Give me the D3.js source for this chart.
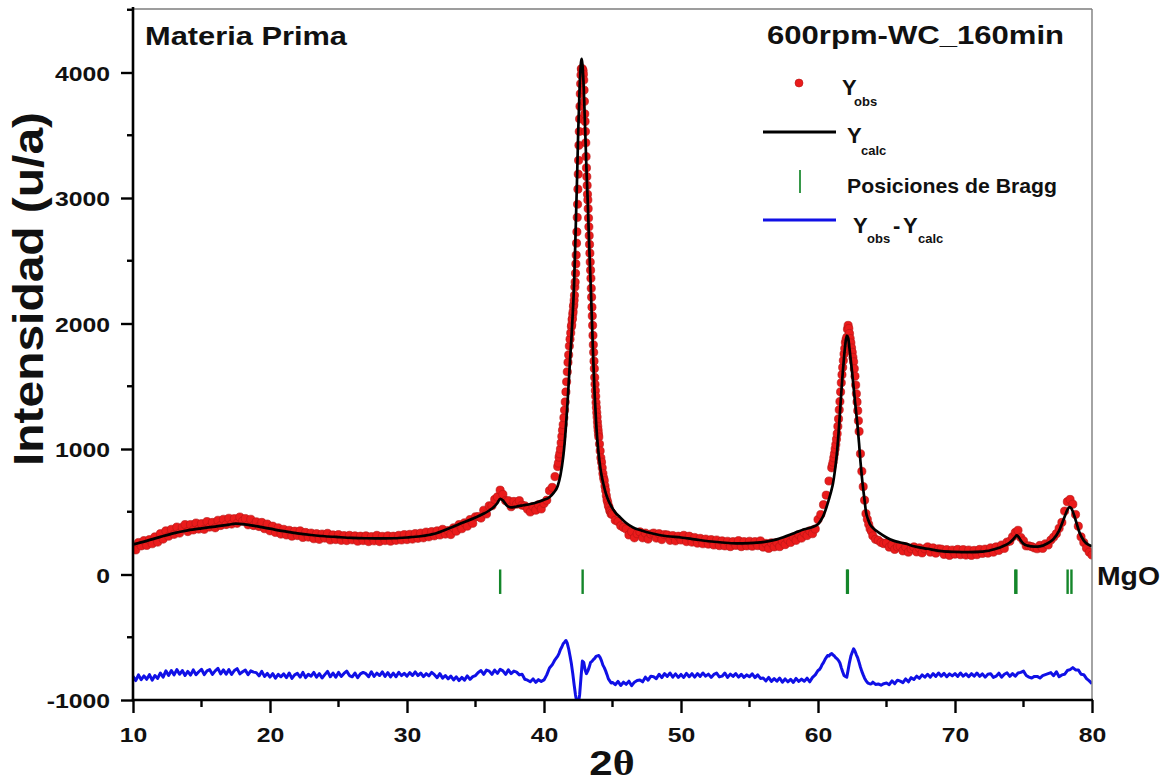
<!DOCTYPE html>
<html>
<head>
<meta charset="utf-8">
<script src="https://cdn.jsdelivr.net/npm/d3@7"></script>
<style>
  body { margin: 0; background: #fff; }
  svg { display: block; }
</style>
</head>
<body>
<svg id="chart" width="1166" height="784"></svg>
<script>
// Rietveld refinement of the milled MgO powder (600 rpm, WC media, 160 min).

// Observed intensity. Each row starts at a whole 2θ degree; the values that follow
// are evenly spaced across that degree (5 values = 0.2° steps, 10 = 0.1°, 20 = 0.05°, 40 = 0.025°).
const obsRows = [
  [10, 222, 196, 255, 228, 270],
  [11, 232, 278, 245, 300, 258],
  [12, 325, 282, 348, 305, 360],
  [13, 320, 378, 330, 376, 398],
  [14, 342, 398, 355, 410, 362],
  [15, 405, 360, 422, 378, 415],
  [16, 372, 432, 390, 440, 398],
  [17, 448, 402, 445, 408, 458],
  [18, 425, 446, 396, 440, 390],
  [19, 420, 382, 415, 365, 402],
  [20, 348, 385, 335, 372, 322],
  [21, 360, 315, 352, 305, 345],
  [22, 310, 348, 295, 335, 298],
  [23, 330, 285, 325, 280, 322],
  [24, 290, 328, 275, 315, 278],
  [25, 318, 272, 310, 270, 312],
  [26, 276, 308, 265, 305, 270],
  [27, 308, 262, 302, 268, 312],
  [28, 262, 304, 270, 308, 265],
  [29, 305, 272, 312, 275, 318],
  [30, 278, 320, 282, 326, 288],
  [31, 330, 292, 338, 300, 342],
  [32, 308, 348, 315, 360, 322],
  [33, 350, 318, 372, 345, 398],
  [34, 365, 412, 385, 438, 408],
  [35, 460, 462, 450, 512, 482],
  [36, 548, 548, 598, 618, 672],
  [37, 638, 588, 588, 540, 582],
  [38, 560, 588, 552, 548, 520],
  [39, 498, 542, 512, 556, 522],
  [40, 566, 592, 668, 694, 780],
  [41, 860, 888, 935, 962, 1000, 1050, 1100, 1150, 1195, 1250,
      1310, 1375, 1455, 1535, 1615, 1690, 1750, 1820, 1875, 1925],
  [42, 1975, 1990, 2030, 2040, 2075, 2095, 2135, 2150, 2185, 2225,
      2290, 2330, 2400, 2475, 2545, 2640, 2730, 2845, 2950, 3070,
      3190, 3300, 3420, 3530, 3630, 3730, 3830, 3910, 3980, 4030,
      4025, 4020, 4030, 4010, 4015, 3985, 3940, 3860, 3770, 3670],
  [43, 3610, 3530, 3440, 3330, 3240, 3170, 3100, 3030, 2985, 2915,
      2840, 2770, 2700, 2630, 2560, 2490, 2425, 2360, 2280, 2210,
      2130, 2060, 1985, 1905, 1830, 1770, 1700, 1640, 1570, 1515,
      1465, 1420, 1370, 1330, 1290, 1255, 1215, 1180, 1150, 1120],
  [44, 1095, 1040, 985, 930, 895, 850, 805, 770, 748, 705,
      670, 628, 595, 575, 548, 535, 510, 502, 482, 490],
  [45, 478, 432, 422, 388, 375],
  [46, 362, 315, 342, 292, 325],
  [47, 340, 292, 330, 282, 322],
  [48, 330, 290, 325, 278, 318],
  [49, 315, 272, 310, 268, 305],
  [50, 275, 312, 262, 305, 258],
  [51, 295, 250, 288, 245, 282],
  [52, 242, 278, 235, 275, 230],
  [53, 268, 228, 265, 222, 262],
  [54, 232, 270, 222, 262, 228],
  [55, 265, 225, 262, 230, 268],
  [56, 218, 248, 208, 252, 220],
  [57, 255, 222, 265, 238, 278],
  [58, 255, 298, 272, 318, 290],
  [59, 332, 310, 348, 325, 362],
  [60, 438, 478, 556, 632, 745],
  [61, 850, 872, 895, 930, 962, 1000, 1035, 1078, 1122, 1180,
      1240, 1312, 1378, 1455, 1528, 1592, 1650, 1705, 1757, 1800],
  [62, 1848, 1872, 1890, 1955, 1985, 1960, 1920, 1880, 1845, 1805,
      1770, 1730, 1695, 1640, 1580, 1510, 1440, 1375, 1305, 1225],
  [63, 1140, 962, 822, 700, 592, 485, 440, 400, 365, 345],
  [64, 308, 280, 272, 255, 246],
  [65, 252, 218, 235, 200, 220],
  [66, 225, 188, 220, 178, 205],
  [67, 220, 180, 212, 172, 205],
  [68, 220, 178, 212, 170, 205],
  [69, 202, 160, 198, 152, 195],
  [70, 162, 200, 158, 198, 155],
  [71, 195, 152, 192, 158, 200],
  [72, 168, 202, 170, 212, 178],
  [73, 220, 192, 235, 208, 258],
  [74, 265, 300, 335, 352, 295],
  [75, 268, 228, 228, 222, 212],
  [76, 205, 232, 208, 245, 235],
  [77, 275, 298, 325, 368, 415],
  [78, 505, 580, 598, 560, 478],
  [79, 385, 300, 255, 210, 178],
  [80, 155]
];

// Calculated profile, [2θ, intensity].
const calcPoints = [
  [10, 240], [11, 268], [12, 300], [13, 330], [14, 352], [15, 368], [16, 382],
  [17, 398], [17.5, 405], [18, 402], [19, 385], [20, 365], [21, 345], [22, 328],
  [23, 315], [24, 305], [25, 298], [26, 292], [27, 289], [28, 288], [29, 289],
  [30, 295], [31, 305], [32, 325], [33, 365], [34, 410], [35, 455], [35.5, 480],
  [36, 510], [36.4, 545], [36.6, 570], [36.8, 603], [37.0, 590], [37.3, 548],
  [37.6, 535], [38, 542], [38.5, 552], [39, 562], [39.5, 576], [40, 595],
  [40.4, 616], [40.7, 650], [41.0, 705], [41.2, 790], [41.4, 935], [41.5, 1040],
  [41.6, 1180], [41.7, 1340], [41.8, 1520], [41.9, 1706], [42.0, 1880],
  [42.1, 2080], [42.2, 2330], [42.3, 2700], [42.4, 3100], [42.5, 3540],
  [42.6, 3880], [42.7, 4080], [42.75, 4109], [42.8, 4070], [42.9, 3880],
  [43.0, 3560], [43.1, 3230], [43.2, 2950], [43.3, 2620], [43.4, 2330],
  [43.5, 2020], [43.6, 1700], [43.7, 1430], [43.8, 1220], [43.9, 1060],
  [44.0, 950], [44.1, 860], [44.2, 790], [44.35, 715], [44.5, 650], [44.7, 590],
  [44.95, 537], [45.2, 495], [45.55, 457], [46, 410], [46.5, 375], [47, 355],
  [48, 325], [49, 305], [50, 295], [51, 280], [52, 265], [53, 255], [54, 248],
  [55, 250], [56, 258], [57, 280], [58, 318], [58.5, 340], [59, 360],
  [59.5, 375], [60, 400], [60.2, 430], [60.4, 470], [60.6, 530], [60.8, 600],
  [61.0, 680], [61.1, 730], [61.2, 800], [61.3, 885], [61.4, 990], [61.5, 1125],
  [61.6, 1285], [61.7, 1450], [61.8, 1600], [61.9, 1730], [62.0, 1840],
  [62.1, 1904], [62.2, 1885], [62.3, 1800], [62.4, 1700], [62.5, 1600],
  [62.6, 1490], [62.7, 1380], [62.8, 1275], [62.9, 1170], [63.0, 1040],
  [63.1, 900], [63.2, 780], [63.3, 680], [63.4, 590], [63.5, 500], [63.65, 440],
  [63.8, 400], [64.0, 372], [64.5, 330], [65, 295], [65.5, 270], [66, 255],
  [66.5, 243], [67, 225], [68, 205], [69, 186], [70, 180], [71, 178], [72, 182],
  [73, 205], [73.5, 225], [74, 255], [74.2, 275], [74.4, 300], [74.5, 311],
  [74.6, 305], [74.8, 272], [75, 245], [75.3, 230], [75.8, 222], [76.2, 224],
  [76.7, 245], [77.2, 284], [77.6, 350], [78.0, 460], [78.2, 515], [78.35, 537],
  [78.5, 525], [78.7, 470], [78.9, 400], [79.1, 330], [79.4, 270], [79.7, 240],
  [80, 225]
];

// Difference curve Yobs - Ycalc, shifted down by 800 counts; same row layout as obsRows.
const diffRows = [
  [10, -812, -845, -800, -838, -808],
  [11, -835, -798, -842, -805, -828],
  [12, -785, -818, -768, -805, -765],
  [13, -800, -758, -795, -765, -805],
  [14, -772, -802, -760, -798, -775],
  [15, -755, -798, -768, -758, -796],
  [16, -768, -748, -792, -760, -795],
  [17, -758, -796, -765, -750, -792],
  [18, -775, -762, -798, -768, -778],
  [19, -782, -808, -772, -812, -788],
  [20, -818, -790, -826, -795, -815],
  [21, -792, -822, -785, -828, -800],
  [22, -788, -818, -780, -822, -795],
  [23, -810, -780, -818, -790, -825],
  [24, -798, -772, -815, -785, -818],
  [25, -780, -812, -788, -770, -805],
  [26, -815, -785, -822, -792, -780],
  [27, -790, -815, -775, -812, -786],
  [28, -805, -776, -812, -782, -816],
  [29, -786, -815, -780, -806, -788],
  [30, -810, -782, -805, -776, -806],
  [31, -785, -814, -790, -808, -780],
  [32, -798, -822, -790, -826, -805],
  [33, -832, -810, -840, -815, -845],
  [34, -820, -842, -808, -836, -814],
  [35, -805, -780, -765, -796, -762],
  [36, -770, -796, -762, -788, -755],
  [37, -768, -796, -760, -790, -770],
  [38, -778, -800, -795, -835, -842],
  [39, -855, -832, -860, -838, -852],
  [40, -840, -800, -745, -720, -680],
  [41, -650, -628, -598, -578, -552, -540, -526, -548, -592, -650],
  [42, -712, -790, -880, -960, -1020, -1030, -960, -820, -690, -700],
  [43, -760, -790, -768, -738, -700, -692, -678, -668, -652, -648],
  [44, -645, -662, -688, -722, -742, -768, -798, -832, -848, -865],
  [45, -860, -878, -852, -884, -858],
  [46, -875, -850, -886, -858, -845],
  [47, -840, -855, -818, -842, -810],
  [48, -815, -830, -795, -822, -790],
  [49, -812, -785, -818, -792, -820],
  [50, -796, -820, -788, -815, -790],
  [51, -818, -790, -812, -785, -810],
  [52, -794, -820, -796, -786, -816],
  [53, -810, -785, -820, -794, -812],
  [54, -790, -818, -795, -820, -800],
  [55, -815, -792, -822, -800, -828],
  [56, -825, -848, -820, -852, -830],
  [57, -850, -825, -858, -832, -855],
  [58, -835, -860, -828, -852, -834],
  [59, -850, -826, -855, -820, -800],
  [60, -765, -758, -742, -718, -702, -680, -662, -645, -650, -636],
  [61, -630, -642, -650, -664, -672, -686, -705, -742, -775, -805],
  [62, -812, -818, -760, -700, -650, -620, -592, -612, -640, -665],
  [63, -700, -739, -772, -800, -826, -845, -860, -868, -872, -870],
  [64, -858, -876, -872, -882, -870],
  [65, -865, -878, -848, -870, -842],
  [66, -850, -862, -832, -855, -822],
  [67, -836, -810, -828, -800, -818],
  [68, -795, -818, -790, -812, -785],
  [69, -810, -788, -815, -792, -808],
  [70, -790, -812, -785, -810, -792],
  [71, -815, -790, -810, -785, -812],
  [72, -792, -818, -795, -790, -820],
  [73, -810, -786, -818, -795, -784],
  [74, -812, -790, -810, -785, -780],
  [75, -770, -805, -818, -825, -812],
  [76, -812, -825, -806, -798, -790],
  [77, -782, -806, -775, -815, -800],
  [78, -795, -765, -758, -742, -760],
  [79, -760, -795, -798, -830, -848],
  [80, -870]
];

// MgO reflection positions (Kα1 / Kα2 pairs where they separate).
const braggPos = [36.8, 42.82, 62.12, 62.18, 74.4, 74.48, 78.22, 78.5];
const braggSpan = [40, -155];

const xMajorTicks = [10, 20, 30, 40, 50, 60, 70, 80];
const xMinorTicks = [15, 25, 35, 45, 55, 65, 75];
const yMajorTicks = [-1000, 0, 1000, 2000, 3000, 4000];
const yMinorTicks = [-500, 500, 1500, 2500, 3500, 4500];

function expandRows(rows) {
  const out = [];
  rows.forEach(row => {
    const start = row[0];
    const vals = row.slice(1);
    const step = 1 / vals.length;
    vals.forEach((v, i) => out.push([start + i * step, v]));
  });
  return out;
}

const obs = expandRows(obsRows);
const diff = expandRows(diffRows);

const svg = d3.select("#chart");
const pLeft = 133, pRight = 1092, pTop = 9, pBottom = 700;
const SANS = "'Liberation Sans', Arial, Helvetica, sans-serif";

const x = d3.scaleLinear().domain([10, 80]).range([pLeft, pRight]);
const y = d3.scaleLinear().domain([-1000, 4500]).range([pBottom, pTop + 0.75]);

svg.append("defs").append("clipPath").attr("id", "plotClip")
  .append("rect").attr("x", pLeft).attr("y", pTop)
  .attr("width", pRight - pLeft).attr("height", pBottom - pTop);

// Horizontal stretch for Origin-style wide bold lettering
function stretch(sel, k) {
  sel.each(function () {
    const t = d3.select(this);
    const tx = +t.attr("x") || 0, ty = +t.attr("y") || 0;
    t.attr("x", 0).attr("y", 0)
      .attr("transform", `translate(${tx},${ty}) scale(${k},1)`);
  });
}

const plot = svg.append("g").attr("clip-path", "url(#plotClip)");

// Observed points
plot.append("g").selectAll("circle").data(obs).join("circle")
  .attr("cx", d => x(d[0])).attr("cy", d => y(d[1])).attr("r", 4.1)
  .attr("fill", "#ea1b1b").attr("stroke", "#b51414").attr("stroke-width", 0.6);

// Calculated profile
plot.append("path").datum(calcPoints)
  .attr("fill", "none").attr("stroke", "#000").attr("stroke-width", 2.7)
  .attr("stroke-linejoin", "round")
  .attr("d", d3.line().x(d => x(d[0])).y(d => y(d[1])).curve(d3.curveMonotoneX));

// Bragg positions
plot.append("g").selectAll("line").data(braggPos).join("line")
  .attr("x1", d => x(d)).attr("x2", d => x(d))
  .attr("y1", y(braggSpan[0])).attr("y2", y(braggSpan[1]))
  .attr("stroke", "#14862a").attr("stroke-width", 2.4);

// Difference curve
plot.append("path").datum(diff)
  .attr("fill", "none").attr("stroke", "#1010e6").attr("stroke-width", 3)
  .attr("stroke-linejoin", "round")
  .attr("d", d3.line().x(d => x(d[0])).y(d => y(d[1])));

// Frame: thin grey top and right edges
svg.append("line").attr("x1", pLeft).attr("x2", pRight).attr("y1", pTop).attr("y2", pTop)
  .attr("stroke", "#7d7d7d").attr("stroke-width", 1.4);
svg.append("line").attr("x1", pRight).attr("x2", pRight).attr("y1", pTop).attr("y2", pBottom)
  .attr("stroke", "#7d7d7d").attr("stroke-width", 1.4);

// Y axis
const gy = svg.append("g").attr("transform", `translate(${pLeft},0)`)
  .call(d3.axisLeft(y).tickValues(yMajorTicks).tickSize(12).tickFormat(d => String(d)));
gy.select(".domain").remove();
gy.selectAll(".tick line").attr("stroke", "#000").attr("stroke-width", 2.4);
gy.selectAll(".tick text")
  .attr("x", -23).attr("dy", "0.36em")
  .attr("font-family", SANS).attr("font-weight", "bold").attr("font-size", 21)
  .attr("fill", "#111").call(stretch, 1.18);
gy.selectAll(".minor").data(yMinorTicks).join("line").attr("class", "minor")
  .attr("x1", -6).attr("x2", 0).attr("y1", d => y(d)).attr("y2", d => y(d))
  .attr("stroke", "#000").attr("stroke-width", 2.4);

// X axis
const gx = svg.append("g").attr("transform", `translate(0,${pBottom})`)
  .call(d3.axisBottom(x).tickValues(xMajorTicks).tickSize(13).tickFormat(d => String(d)));
gx.select(".domain").remove();
gx.selectAll(".tick line").attr("stroke", "#000").attr("stroke-width", 2.4);
gx.selectAll(".tick text")
  .attr("y", 42).attr("dy", 0)
  .attr("font-family", SANS).attr("font-weight", "bold").attr("font-size", 21)
  .attr("fill", "#111").call(stretch, 1.18);
gx.selectAll(".minor").data(xMinorTicks).join("line").attr("class", "minor")
  .attr("x1", d => x(d)).attr("x2", d => x(d)).attr("y1", 0).attr("y2", 7)
  .attr("stroke", "#000").attr("stroke-width", 2.4);

// Axis lines
svg.append("line").attr("x1", pLeft).attr("x2", pLeft).attr("y1", pTop - 2).attr("y2", pBottom + 1.2)
  .attr("stroke", "#000").attr("stroke-width", 2.6);
svg.append("line").attr("x1", pLeft - 1.2).attr("x2", pRight + 1).attr("y1", pBottom).attr("y2", pBottom)
  .attr("stroke", "#000").attr("stroke-width", 2.6);

// Axis titles
svg.append("text")
  .attr("transform", `translate(43,${(112 + 466) / 2}) rotate(-90)`)
  .attr("text-anchor", "middle")
  .attr("font-family", SANS).attr("font-weight", "bold").attr("font-size", 42)
  .attr("textLength", 354).attr("lengthAdjust", "spacingAndGlyphs")
  .attr("fill", "#111").text("Intensidad (u/a)");

const xt = svg.append("text").attr("x", 612).attr("y", 775)
  .attr("text-anchor", "middle").attr("font-weight", "bold").attr("font-size", 35)
  .attr("fill", "#111");
xt.append("tspan").attr("font-family", SANS).text("2");
xt.append("tspan").attr("font-family", "'Liberation Serif', 'Times New Roman', serif").text("θ");
xt.call(stretch, 1.2);

// Panel captions
svg.append("text").attr("x", 145).attr("y", 45)
  .attr("font-family", SANS).attr("font-weight", "bold").attr("font-size", 26)
  .attr("textLength", 202).attr("lengthAdjust", "spacingAndGlyphs")
  .attr("fill", "#111").text("Materia Prima");
svg.append("text").attr("x", 767).attr("y", 43.5)
  .attr("font-family", SANS).attr("font-weight", "bold").attr("font-size", 26)
  .attr("textLength", 297).attr("lengthAdjust", "spacingAndGlyphs")
  .attr("fill", "#111").text("600rpm-WC_160min");
svg.append("text").attr("x", 1097).attr("y", 585)
  .attr("font-family", SANS).attr("font-weight", "bold").attr("font-size", 26)
  .attr("textLength", 63).attr("lengthAdjust", "spacingAndGlyphs")
  .attr("fill", "#111").text("MgO");

// Legend
const lg = svg.append("g").attr("font-family", SANS).attr("font-weight", "bold").attr("fill", "#111");
lg.append("circle").attr("cx", 799).attr("cy", 83).attr("r", 4)
  .attr("fill", "#ea1b1b").attr("stroke", "#b51414").attr("stroke-width", 0.6);
lg.append("line").attr("x1", 763).attr("x2", 836).attr("y1", 132).attr("y2", 132)
  .attr("stroke", "#000").attr("stroke-width", 2.8);
lg.append("line").attr("x1", 800).attr("x2", 800).attr("y1", 170).attr("y2", 193)
  .attr("stroke", "#14862a").attr("stroke-width", 1.7);
lg.append("line").attr("x1", 763).attr("x2", 836).attr("y1", 220).attr("y2", 220)
  .attr("stroke", "#1010e6").attr("stroke-width", 2.8);

function label(xp, yp, size, str) {
  lg.append("text").attr("x", xp).attr("y", yp).attr("font-size", size).text(str);
}
label(842, 95, 22, "Y");
label(854, 106, 13, "obs");
label(847, 143, 22, "Y");
label(861, 155, 13, "calc");
lg.append("text").attr("x", 847).attr("y", 193).attr("font-size", 21)
  .attr("textLength", 210).attr("lengthAdjust", "spacingAndGlyphs")
  .text("Posiciones de Bragg");
label(853, 233, 22, "Y");
label(867, 243, 13, "obs");
label(893, 233, 22, "-");
label(903, 233, 22, "Y");
label(918, 243, 13, "calc");
</script>
</body>
</html>
